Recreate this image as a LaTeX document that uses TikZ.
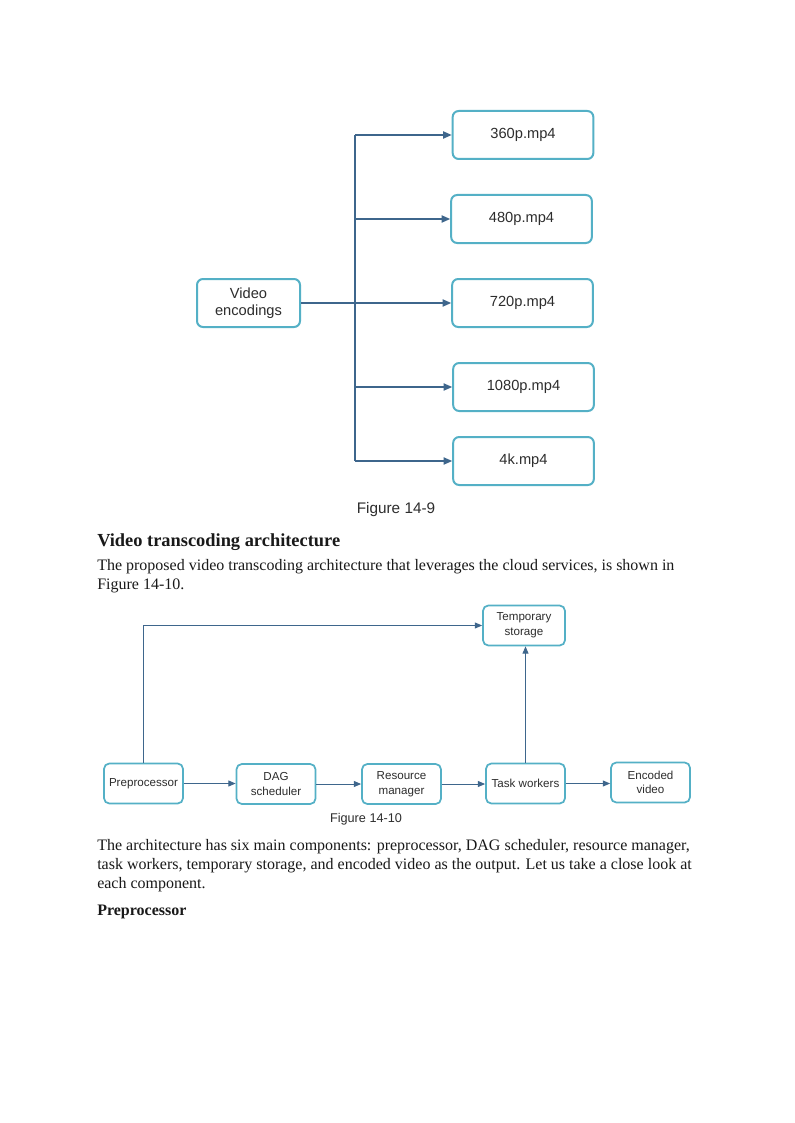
\documentclass[tikz,border=0pt]{standalone}
\usepackage{fontspec}
\setmainfont{Liberation Serif}
\newfontfamily\diagfont{Liberation Sans}
\usetikzlibrary{arrows.meta}
\definecolor{boxc}{RGB}{84,176,198}
\definecolor{arrc}{RGB}{62,102,140}
\definecolor{txtc}{RGB}{45,45,45}
\begin{document}
\begin{tikzpicture}[x=0.75pt,y=-0.75pt,
  bigbox/.style={draw=boxc,line width=1.5pt,rounded corners=4.5pt,fill=white,
    minimum width=105.5pt,minimum height=36pt,inner sep=0pt,align=center,
    font=\diagfont\fontsize{11}{13}\selectfont,text=txtc},
  smallbox/.style={draw=boxc,line width=1.3pt,rounded corners=4pt,fill=white,
    minimum width=59.25pt,minimum height=30pt,inner sep=0pt,align=center,
    font=\diagfont\fontsize{8.7}{11}\selectfont,text=txtc},
  conn/.style={draw=arrc,line width=0.9pt},
  arr/.style={conn,-{Triangle[length=6.5pt,width=5.5pt]}},
  conn2/.style={draw=arrc,line width=0.75pt},
  arr2/.style={conn2,-{Triangle[length=5.5pt,width=4.5pt]}},
  caption/.style={font=\diagfont\fontsize{11.5}{13}\selectfont,text=txtc},
  caption2/.style={font=\diagfont\fontsize{9.5}{11}\selectfont,text=txtc},
  body/.style={anchor=base west,inner sep=0pt,font=\fontsize{12}{14}\selectfont,text=black!90},
  head/.style={anchor=base west,inner sep=0pt,font=\bfseries\fontsize{13.8}{16}\selectfont,text=black!90},
  subhead/.style={anchor=base west,inner sep=0pt,font=\bfseries\fontsize{12}{14}\selectfont,text=black!90}
]
\useasboundingbox[fill=white] (0,0) rectangle (794,1123);

% ---- Figure 14-9 ----
\node[bigbox,minimum width=77.25pt] (ve) at (248.5,303) {Video\\encodings};
\node[bigbox] (o360) at (523,135) {360p.mp4};
\node[bigbox] (o480) at (521.5,219) {480p.mp4};
\node[bigbox] (o720) at (522.5,303) {720p.mp4};
\node[bigbox] (o1080) at (523.5,387) {1080p.mp4};
\node[bigbox] (o4k) at (523.5,461) {4k.mp4};
\coordinate (tt) at (355,135);
\coordinate (tb) at (355,461);
\draw[conn] (tt) -- (tb);
\draw[arr] (ve.east) -- (o720.west);
\draw[arr] (tt) -- (o360.west);
\draw[arr] (tt |- o480.west) -- (o480.west);
\draw[arr] (tt |- o1080.west) -- (o1080.west);
\draw[arr] (tb) -- (o4k.west);
\node[caption] (cap9) at (396,510) {Figure 14-9};

% ---- text ----
\node[head] (h1) at (97,546) {Video transcoding architecture};
\node[body] (t1) at (97,570) {The proposed video transcoding architecture that leverages the cloud services, is shown in};
\node[body] (t2) at (97,589) {Figure 14-10.};

% ---- Figure 14-10 ----
\node[smallbox] (pre) at (143.5,783.5) {Preprocessor};
\node[smallbox] (dag) at (276,784) {DAG\\scheduler};
\node[smallbox] (res) at (401.5,784) {Resource\\manager};
\node[smallbox] (task) at (525.5,783.5) {Task workers};
\node[smallbox] (enc) at (650.5,782.5) {Encoded\\video};
\node[smallbox,minimum width=61.5pt] (temp) at (524,625.5) {Temporary\\storage};
\draw[arr2] (pre.east) -- (dag.west |- pre.east);
\draw[arr2] (dag.east) -- (res.west);
\draw[arr2] (res.east) -- (task.west |- res.east);
\draw[arr2] (task.east) -- (enc.west |- task.east);
\draw[arr2] (pre.north) |- (temp.west);
\draw[arr2] (task.north) -- (task.north |- temp.south);
\node[caption2] (cap10) at (366,819) {Figure 14-10};

% ---- text ----
\node[body] (t3) at (97,850) {The architecture has six main components: preprocessor, DAG scheduler, resource manager,};
\node[body] (t4) at (97,869) {task workers, temporary storage, and encoded video as the output. Let us take a close look at};
\node[body] (t5) at (97,888) {each component.};
\node[subhead] (h2) at (97,915) {Preprocessor};
\end{tikzpicture}
\end{document}
